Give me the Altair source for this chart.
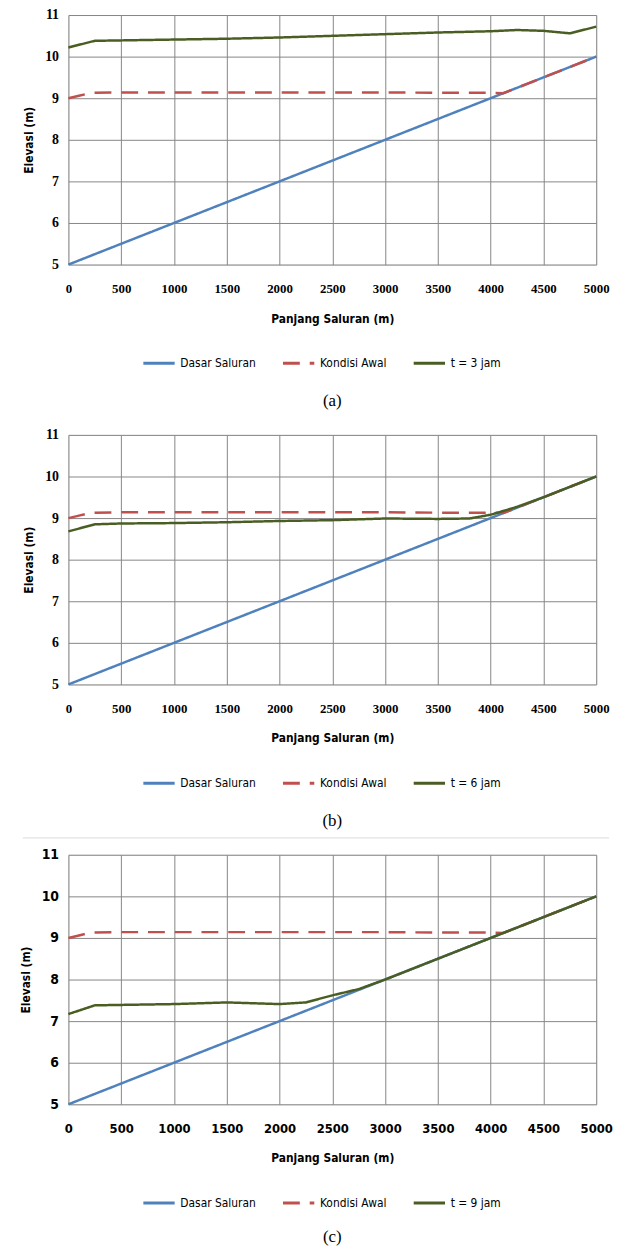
import altair as alt
import pandas as pd

# ---------------- data ----------------
x_ticks = [0, 500, 1000, 1500, 2000, 2500, 3000, 3500, 4000, 4500, 5000]
y_ticks = [5, 6, 7, 8, 9, 10, 11]

bed_dist = [0, 500, 1000, 1500, 2000, 2500, 3000, 3500, 4000, 4500, 5000]
bed_elev = [5.0, 5.5, 6.0, 6.5, 7.0, 7.5, 8.0, 8.5, 9.0, 9.5, 10.0]

init_dist = [0, 100, 200, 250, 500, 1000, 1500, 2000, 2500, 3000, 3500, 4000, 4120, 4250, 4500, 4750, 5000]
init_elev = [9.0, 9.06, 9.12, 9.13, 9.14, 9.14, 9.14, 9.14, 9.14, 9.14, 9.13, 9.13, 9.12, 9.25, 9.5, 9.75, 10.0]

t3_dist = [0, 250, 500, 1000, 1500, 2000, 2500, 3000, 3500, 4000, 4250, 4500, 4750, 5000]
t3_elev = [10.22, 10.38, 10.39, 10.41, 10.43, 10.46, 10.50, 10.54, 10.58, 10.61, 10.64, 10.62, 10.56, 10.72]

t6_dist = [0, 250, 500, 1000, 1500, 2000, 2500, 3000, 3500, 3800, 4000, 4250, 4500, 4750, 5000]
t6_elev = [8.68, 8.85, 8.87, 8.88, 8.90, 8.93, 8.95, 8.99, 8.98, 8.99, 9.08, 9.27, 9.5, 9.75, 10.0]

t9_dist = [0, 250, 500, 1000, 1500, 2000, 2250, 2500, 2750, 3000, 3500, 4000, 4250, 4500, 4750, 5000]
t9_elev = [7.17, 7.38, 7.39, 7.41, 7.45, 7.41, 7.45, 7.62, 7.77, 8.0, 8.5, 9.0, 9.25, 9.5, 9.75, 10.0]

series_bed = "Dasar Saluran"
series_init = "Kondisi Awal"
t_labels = ["t = 3 jam", "t = 6 jam", "t = 9 jam"]
captions = ["(a)", "(b)", "(c)"]

BLUE = "#4F81BD"
RED = "#C0504D"
GREEN = "#4A5E23"
GRID = "#868686"
SANS = "Liberation Sans Narrow, DejaVu Sans Condensed, Liberation Sans, sans-serif"
SERIF = "Liberation Serif, serif"


def panel(t_label, t_dist, t_elev, caption, tick_font, cap_offset, separator=False):
    names = [series_bed, series_init, t_label]
    leg = alt.Legend(
        title=None, orient="none", direction="horizontal", legendX=74, legendY=334,
        symbolType="stroke", symbolStrokeWidth=3, symbolSize=1000,
        labelFont=SANS, labelFontSize=12, labelColor="black",
        columnPadding=20, labelOffset=4,
    )
    color = alt.Color("s:N", scale=alt.Scale(domain=names, range=[BLUE, RED, GREEN]), legend=leg)
    dash = alt.StrokeDash("s:N", scale=alt.Scale(domain=names, range=[[1, 0], [17, 10], [1, 0]]), legend=leg)
    x = alt.X("x:Q", scale=alt.Scale(domain=[0, 5000], nice=False),
              axis=alt.Axis(values=x_ticks, format="d", title="Panjang Saluran (m)", grid=True,
                            ticks=False, domain=False, labelPadding=18, titlePadding=18,
                            labelFont=tick_font, labelFontSize=13, labelFontWeight="bold",
                            labelColor="black", titleFont=SANS, titleFontSize=12,
                            titleFontWeight="bold", titleColor="black",
                            gridColor=GRID, gridOpacity=1, labelFlush=False))
    y = alt.Y("y:Q", scale=alt.Scale(domain=[5, 11], nice=False, zero=False),
              axis=alt.Axis(values=y_ticks, format="d", title="Elevasi (m)", grid=True, ticks=False,
                            domain=False, labelPadding=10, titlePadding=9,
                            labelFont=tick_font, labelFontSize=14, labelFontWeight="bold",
                            labelColor="black", titleFont=SANS, titleFontSize=12,
                            titleFontWeight="bold", titleColor="black",
                            gridColor=GRID, gridOpacity=1))

    def layer(dist, elev, name):
        df = pd.DataFrame({"x": dist, "y": elev, "s": [name] * len(dist)})
        return alt.Chart(df).mark_line(strokeWidth=2.5).encode(x=x, y=y, color=color, strokeDash=dash)

    layers = [
        layer(bed_dist, bed_elev, series_bed),
        layer(init_dist, init_elev, series_init),
        layer(t_dist, t_elev, t_label),
    ]
    if separator:
        sep = alt.Chart(alt.Data(values=[{"k": 1}])).mark_rule(
            color="#dcdcdc", strokeWidth=1
        ).encode(x=alt.value(-46), x2=alt.value(546), y=alt.value(-17))
        layers.append(sep)

    ch = alt.layer(*layers).properties(
        width=533, height=252,
        title=alt.TitleParams(text=caption, orient="bottom", anchor="middle", font=SERIF,
                              fontSize=17, fontWeight="normal", color="black", offset=cap_offset),
    )
    return ch


top_pair = alt.vconcat(
    panel(t_labels[0], t3_dist, t3_elev, captions[0], SERIF, 24),
    panel(t_labels[1], t6_dist, t6_elev, captions[1], SERIF, 24),
    spacing=17,
).resolve_scale(color="independent", strokeDash="independent")

chart = alt.vconcat(
    top_pair,
    panel(t_labels[2], t9_dist, t9_elev, captions[2], SANS, 20, separator=True),
    spacing=7,
).resolve_scale(color="independent", strokeDash="independent").properties(
    padding={"left": 10, "top": -7, "right": 5, "bottom": -4}
).configure_view(stroke=GRID, strokeWidth=1).configure(background="white")

chart.save("out.html", embed_options={"renderer": "svg", "actions": False})
